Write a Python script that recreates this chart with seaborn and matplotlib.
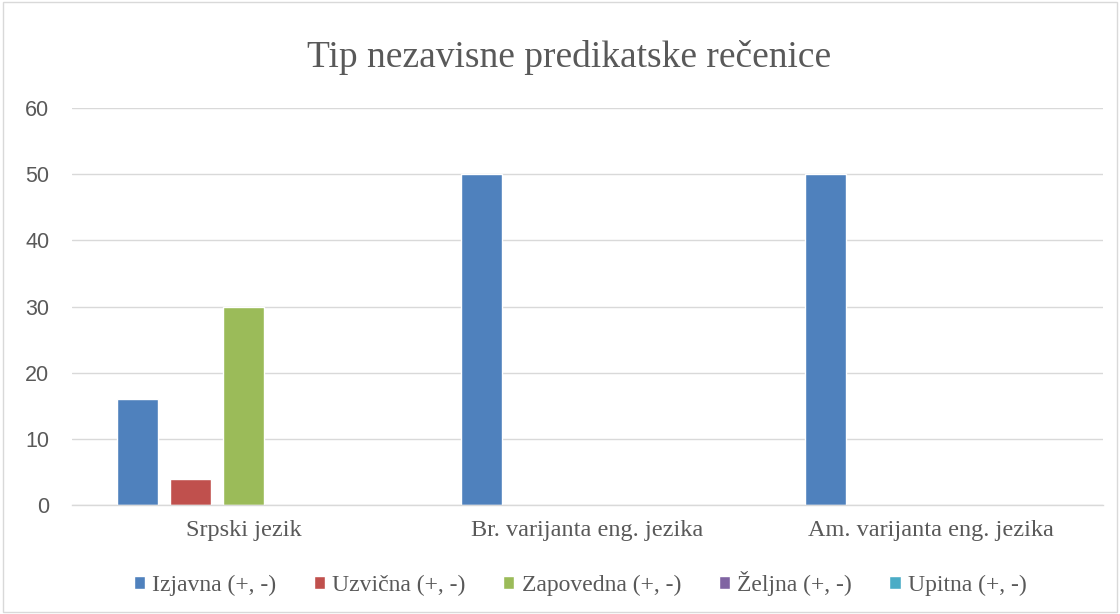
import pandas as pd
import matplotlib.pyplot as plt
import seaborn as sns
from matplotlib.patches import Rectangle

# Data
categories = ["Srpski jezik", "Br. varijanta eng. jezika", "Am. varijanta eng. jezika"]
series = ["Izjavna (+, -)", "Uzvična (+, -)", "Zapovedna (+, -)", "Željna (+, -)", "Upitna (+, -)"]
izjavna = [16, 50, 50]
uzvicna = [4, 0, 0]
zapovedna = [30, 0, 0]
zeljna = [0, 0, 0]
upitna = [0, 0, 0]
colors = ["#4F81BD", "#C0504D", "#9BBB59", "#8064A2", "#4BACC6"]

rows = []
for name, vals in zip(series, [izjavna, uzvicna, zapovedna, zeljna, upitna]):
    for cat, v in zip(categories, vals):
        rows.append({"Kategorija": cat, "Tip": name, "Broj": v})
df = pd.DataFrame(rows)

sns.set_style("white")
serif = ["Liberation Serif", "DejaVu Serif"]
sans = ["Liberation Sans", "DejaVu Sans"]
txt = "#595959"

fig = plt.figure(figsize=(11.2, 6.14), dpi=100)
ax = fig.add_axes([0.064, 0.1775, 0.921, 0.6466])

sns.barplot(data=df, x="Kategorija", y="Broj", hue="Tip", order=categories,
            hue_order=series, palette=colors, width=0.77, gap=0.23,
            saturation=1, ax=ax, legend=True)

ax.set_ylim(0, 60)
ax.set_xlim(-0.5, 2.5)
ax.set_yticks(range(0, 61, 10))
ax.yaxis.grid(True, color="#D9D9D9", linewidth=1)
ax.set_axisbelow(True)
for s in ["left", "right", "top"]:
    ax.spines[s].set_visible(False)
ax.spines["bottom"].set_color("#D9D9D9")
ax.spines["bottom"].set_linewidth(1)
ax.tick_params(axis="both", length=0)
ax.tick_params(axis="y", pad=16, labelcolor=txt)
ax.tick_params(axis="x", pad=11, labelcolor=txt)
for lab in ax.get_yticklabels():
    lab.set_family(sans)
    lab.set_fontsize(15.5)
for lab in ax.get_xticklabels():
    lab.set_family(serif)
    lab.set_fontsize(17.5)
ax.set_xlabel("")
ax.set_ylabel("")

fig.text(0.508, 0.907, "Tip nezavisne predikatske rečenice", ha="center", va="center",
         family=serif, fontsize=27, color=txt)

handles, labels = ax.get_legend_handles_labels()
ax.legend_.remove()
fig.legend(handles, labels, loc="center", bbox_to_anchor=(0.518, 0.05), ncol=5,
           frameon=False, prop={"family": serif, "size": 17}, handlelength=0.47,
           handleheight=0.47, handletextpad=0.3, columnspacing=1.6, labelcolor=txt)

fig.patches.append(Rectangle((0.003, 0.003), 0.994, 0.994, transform=fig.transFigure,
                             fill=False, edgecolor="#D9D9D9", linewidth=1))

fig.savefig("out.png", dpi=100)
